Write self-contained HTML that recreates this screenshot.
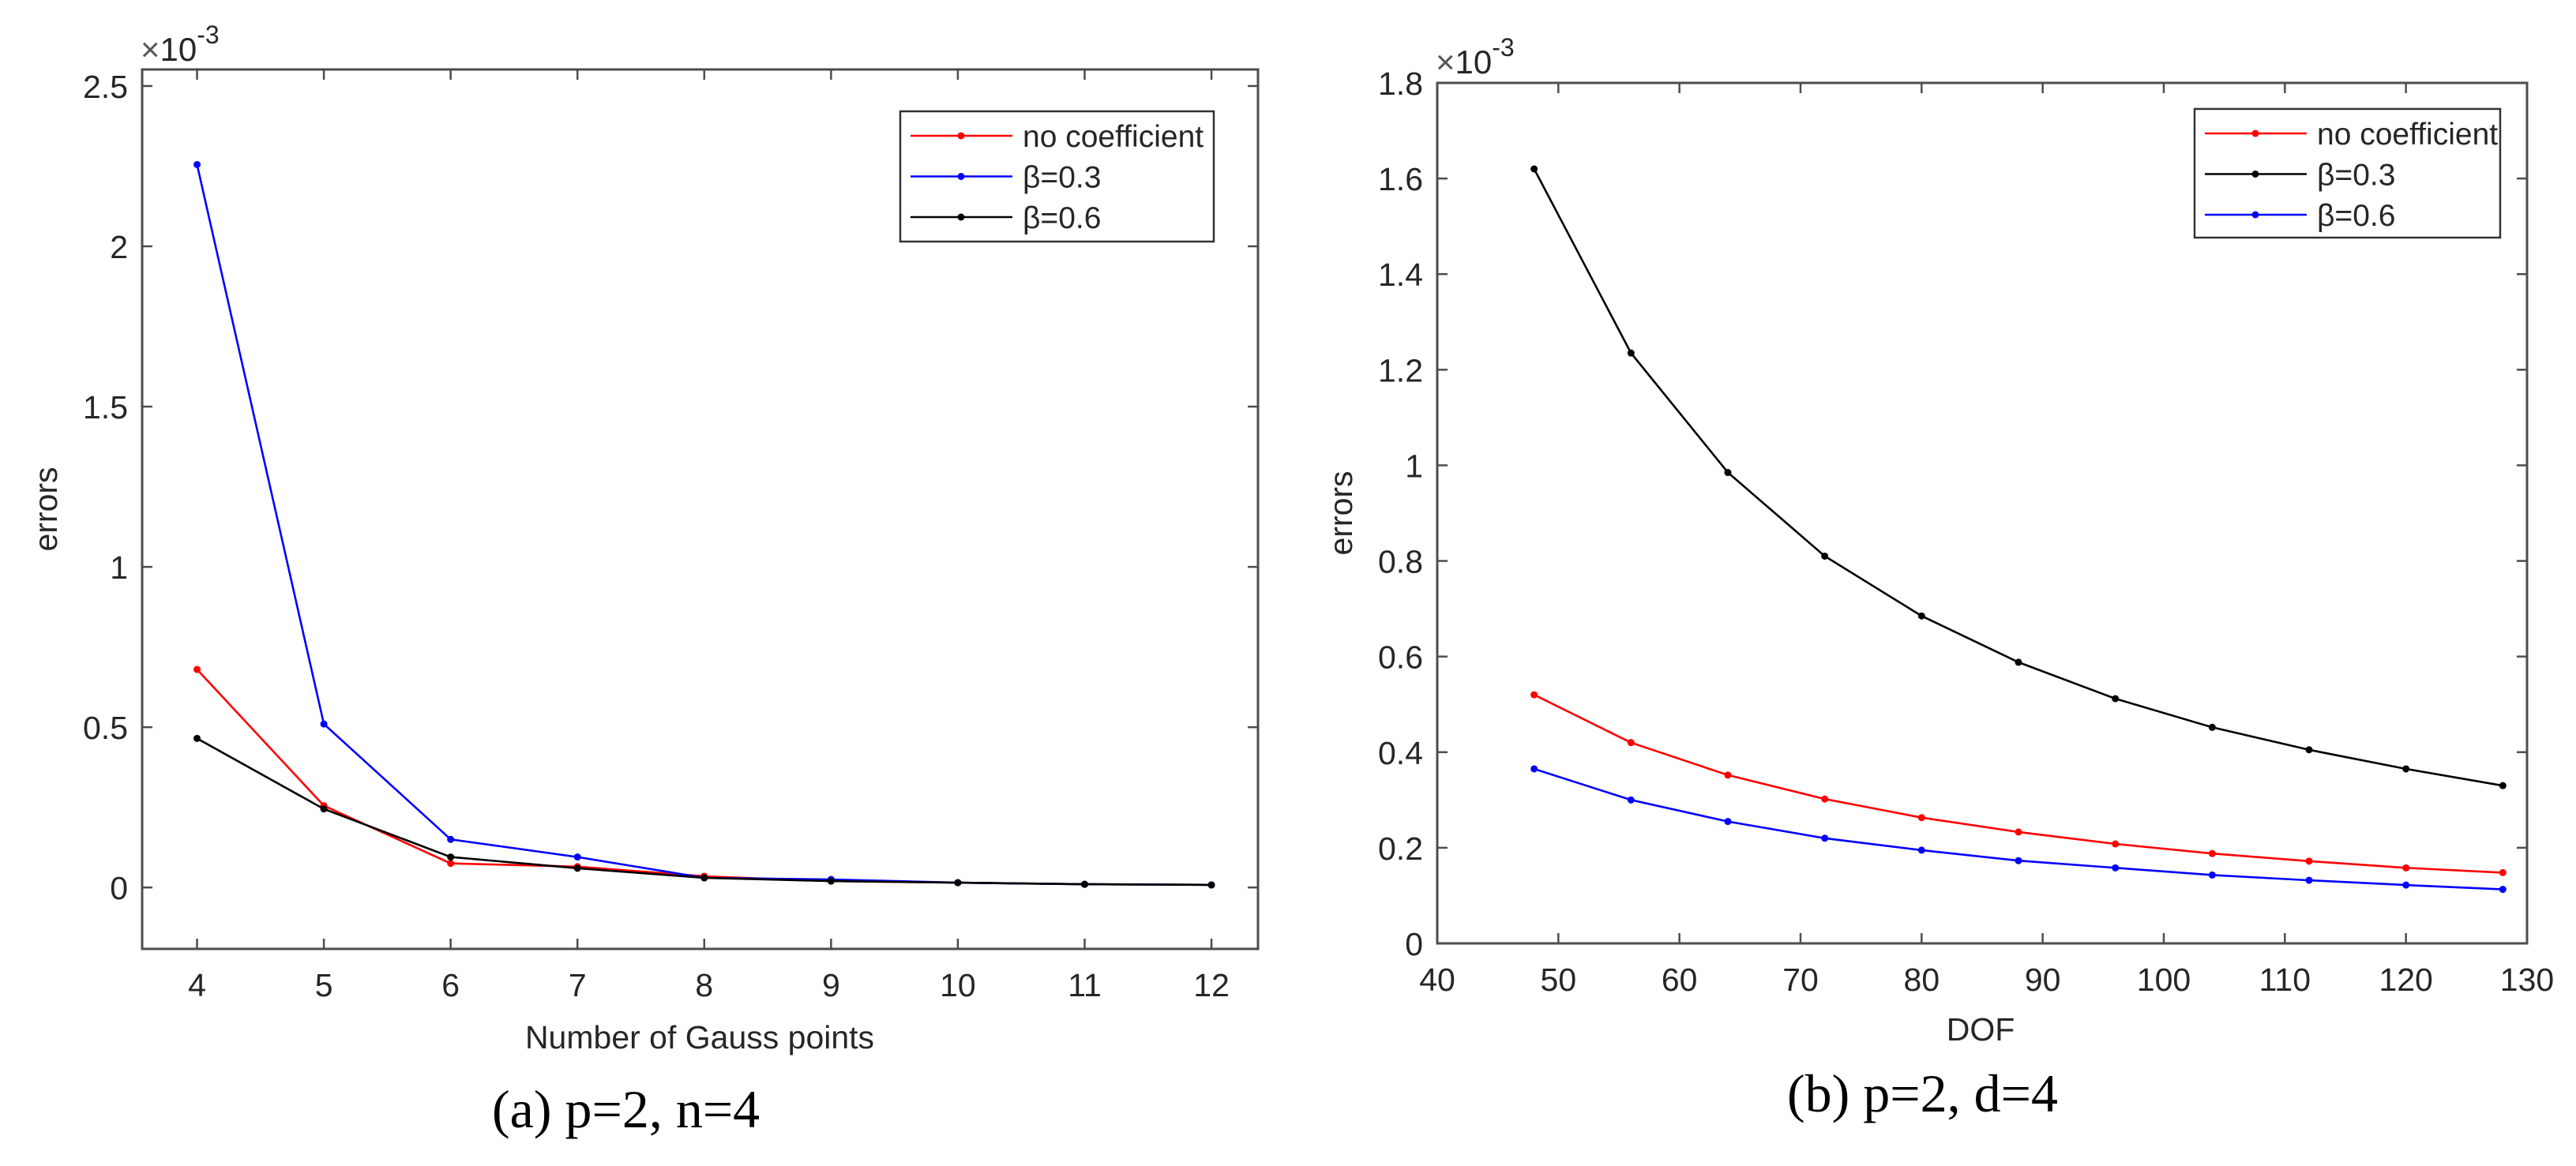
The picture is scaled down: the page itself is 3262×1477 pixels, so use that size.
<!DOCTYPE html>
<html><head><meta charset="utf-8"><style>
html,body{margin:0;padding:0;background:#fff;}
svg{display:block;}
text{font-family:"Liberation Sans",Arial,sans-serif;fill:#262626;}
.cap{font-family:"Liberation Serif","Times New Roman",serif;fill:#000;}
</style></head><body>
<svg id="fig" width="3262" height="1477" viewBox="0 0 3262 1477" xmlns="http://www.w3.org/2000/svg"></svg>
<script>
// ---- Chart (a) data ----
const gaussPoints = [4,5,6,7,8,9,10,11,12];
const aNoCoef = [0.68,0.255,0.075,0.065,0.035,0.02,0.015,0.01,0.008];
const aBeta03 = [2.255,0.51,0.15,0.095,0.03,0.025,0.015,0.01,0.008];
const aBeta06 = [0.465,0.245,0.095,0.06,0.03,0.02,0.015,0.01,0.008];
const aXTicks = [4,5,6,7,8,9,10,11,12];
const aYTicks = [0,0.5,1,1.5,2,2.5];
const aYTickLabels = ["0","0.5","1","1.5","2","2.5"];
// ---- Chart (b) data ----
const dof = [48,56,64,72,80,88,96,104,112,120,128];
const bNoCoef = [0.52,0.42,0.352,0.302,0.263,0.233,0.208,0.188,0.172,0.158,0.148];
const bBeta03 = [1.62,1.235,0.985,0.81,0.685,0.588,0.512,0.452,0.405,0.365,0.33];
const bBeta06 = [0.365,0.3,0.255,0.22,0.195,0.173,0.158,0.143,0.132,0.122,0.113];
const bXTicks = [40,50,60,70,80,90,100,110,120,130];
const bYTicks = [0,0.2,0.4,0.6,0.8,1,1.2,1.4,1.6,1.8];
const bYTickLabels = ["0","0.2","0.4","0.6","0.8","1","1.2","1.4","1.6","1.8"];

const NS="http://www.w3.org/2000/svg";
const svg=document.getElementById('fig');
function mk(tag,attrs,parent){const e=document.createElementNS(NS,tag);for(const k in attrs)e.setAttribute(k,attrs[k]);(parent||svg).appendChild(e);return e;}

function chart(cfg){
  const g=mk('g',{});
  
  
  const {L,R,T,B}=cfg;
  const sx=v=>L+(v-cfg.xmin)/(cfg.xmax-cfg.xmin)*(R-L);
  const sy=v=>B-(v-cfg.ymin)/(cfg.ymax-cfg.ymin)*(B-T);
  // series
  cfg.series.forEach(s=>{
    const sg=mk('g',{},g);
    
    
    const pts=cfg.x.map((xv,i)=>sx(xv).toFixed(1)+','+sy(s.values[i]).toFixed(1)).join(' ');
    const pl=mk('polyline',{points:pts,fill:'none',stroke:s.color,'stroke-width':2.6},sg);
    
    
    cfg.x.forEach((xv,i)=>{
      const c=mk('circle',{cx:sx(xv),cy:sy(s.values[i]),r:4.5,fill:s.color},sg);
      
      
    });
  });
  // axes box
  const box=mk('rect',{x:L,y:T,width:R-L,height:B-T,fill:'none',stroke:'#4d4d4d','stroke-width':3},g);
  
  
  const tl=13;
  cfg.xTicks.forEach(v=>{
    const x=sx(v);
    mk('line',{x1:x,y1:B,x2:x,y2:B-tl,stroke:'#4d4d4d','stroke-width':2.5},g);
    mk('line',{x1:x,y1:T,x2:x,y2:T+tl,stroke:'#4d4d4d','stroke-width':2.5},g);
    const t=mk('text',{x:x,y:cfg.xLabY,'font-size':41,'text-anchor':'middle'},g);
    t.textContent=String(v);
    
    
  });
  cfg.yTicks.forEach((v,i)=>{
    const y=sy(v);
    mk('line',{x1:L,y1:y,x2:L+tl,y2:y,stroke:'#4d4d4d','stroke-width':2.5},g);
    mk('line',{x1:R,y1:y,x2:R-tl,y2:y,stroke:'#4d4d4d','stroke-width':2.5},g);
    const t=mk('text',{x:L-18,y:y+15,'font-size':41,'text-anchor':'end'},g);
    t.textContent=cfg.yTickLabels[i];
    
    
  });
  // exponent
  const ex=mk('text',{x:cfg.expX,y:cfg.expY,'font-size':42},g);
  
  
  ex.innerHTML='<tspan fill="#555">×</tspan>10<tspan font-size="32" dy="-22">-3</tspan>';
  // labels
  const xl=mk('text',{x:cfg.xTitleX,y:cfg.xTitleY,'font-size':41,'text-anchor':'middle'},g);
  xl.textContent=cfg.xTitle;
  
  
  const yl=mk('text',{x:0,y:0,'font-size':41,'text-anchor':'middle',transform:`translate(${cfg.yTitleX},${(T+B)/2}) rotate(-90)`},g);
  yl.textContent='errors';
  
  
  // legend
  const lg=mk('g',{},g);
  
  
  const lb=cfg.legend;
  mk('rect',{x:lb.x,y:lb.y,width:lb.w,height:lb.h,fill:'#fff',stroke:'#333','stroke-width':2.5},lg);
  cfg.series.forEach((s,i)=>{
    const ry=lb.y+31+i*51.5;
    const e=mk('g',{},lg);
    
    
    mk('line',{x1:lb.x+13,y1:ry,x2:lb.x+142,y2:ry,stroke:s.color,'stroke-width':2.6},e);
    mk('circle',{cx:lb.x+77,cy:ry,r:4.5,fill:s.color},e);
    const t=mk('text',{x:lb.x+155,y:ry+14,'font-size':39},e);
    t.textContent=s.label;
  });
  // caption
  const cp=mk('text',{x:cfg.capX,y:cfg.capY,'font-size':68,class:'cap'},g);
  cp.textContent=cfg.caption;
  
  
}

chart({name:'chart-a',L:180,R:1593,T:88,B:1202,
  xmin:3.567,xmax:12.367,ymin:-0.1916,ymax:2.5516,
  x:gaussPoints,
  series:[{name:'series-no-coefficient',label:'no coefficient',color:'#ff0000',values:aNoCoef},
          {name:'series-beta-0.3',label:'β=0.3',color:'#0000ff',values:aBeta03},
          {name:'series-beta-0.6',label:'β=0.6',color:'#000000',values:aBeta06}],
  xTicks:aXTicks,yTicks:aYTicks,yTickLabels:aYTickLabels,xLabY:1262,
  expX:178,expY:77,xTitle:'Number of Gauss points',xTitleX:886,xTitleY:1328,yTitleX:72,
  legend:{x:1140,y:141,w:397,h:165},caption:'(a) p=2, n=4',capX:623,capY:1428});

chart({name:'chart-b',L:1820,R:3200,T:105,B:1195,
  xmin:40,xmax:130,ymin:0,ymax:1.8,
  x:dof,
  series:[{name:'series-no-coefficient',label:'no coefficient',color:'#ff0000',values:bNoCoef},
          {name:'series-beta-0.3',label:'β=0.3',color:'#000000',values:bBeta03},
          {name:'series-beta-0.6',label:'β=0.6',color:'#0000ff',values:bBeta06}],
  xTicks:bXTicks,yTicks:bYTicks,yTickLabels:bYTickLabels,xLabY:1255,
  expX:1818,expY:93,xTitle:'DOF',xTitleX:2508,xTitleY:1318,yTitleX:1712,
  legend:{x:2779,y:138,w:387,h:163},caption:'(b) p=2, d=4',capX:2263,capY:1408});
</script>
</body></html>
